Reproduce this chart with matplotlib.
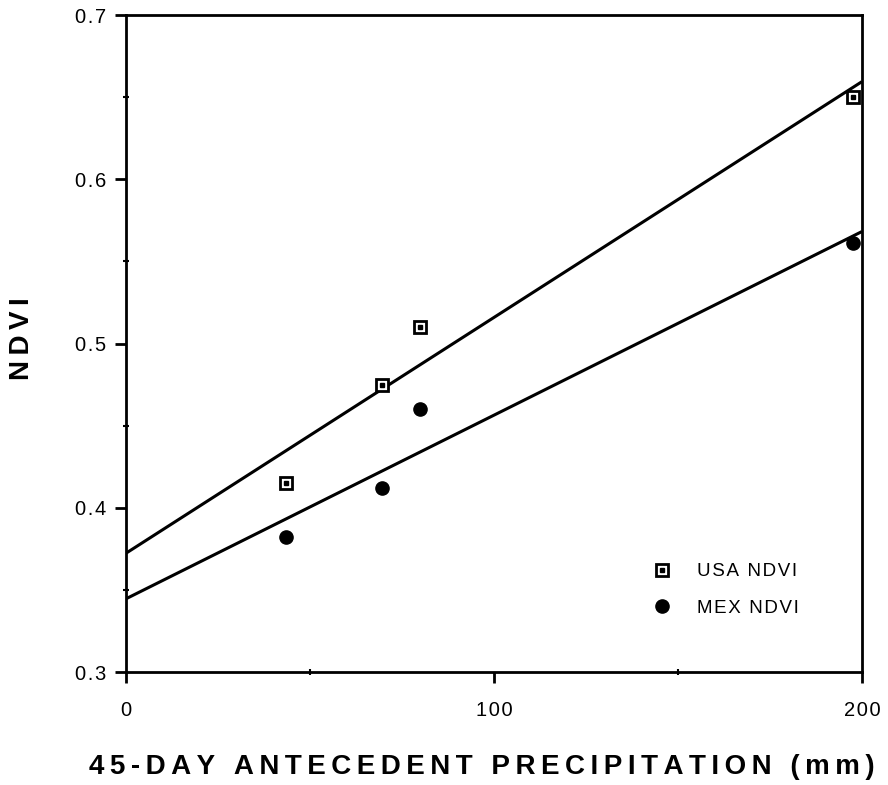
import numpy as np
import matplotlib
matplotlib.use("Agg")
import matplotlib.pyplot as plt

# values
precip = [43.5, 69.5, 80, 197.5]
usa_ndvi = [0.415, 0.475, 0.510, 0.650]
mex_ndvi = [0.382, 0.412, 0.460, 0.561]
xticks = [0, 100, 200]
yticks = [0.3, 0.4, 0.5, 0.6, 0.7]

plt.rcParams['font.family'] = ['Liberation Sans', 'DejaVu Sans']


def spaced(s, sp='\u2009'):
    # old typesetting has wide letter spacing
    return sp.join(s)


def main():
    fig = plt.figure(figsize=(8.88, 7.85), dpi=100)
    ax = fig.add_axes([0.1419, 0.1439, 0.8288, 0.8369])

    xs = np.array([0, 200])
    for ys in (usa_ndvi, mex_ndvi):
        slope, icpt = np.polyfit(precip, ys, 1)
        ax.plot(xs, icpt + slope * xs, color='black', linewidth=2.2,
                solid_capstyle='butt')

    sq = ax.plot(precip, usa_ndvi, linestyle='none', marker='s', markersize=8.5,
                 markerfacecolor='white', markeredgecolor='black',
                 markeredgewidth=2, clip_on=False)[0]
    dot = ax.plot(precip, usa_ndvi, linestyle='none', marker='s',
                  markersize=2.5, color='black', clip_on=False)[0]
    mex = ax.plot(precip, mex_ndvi, linestyle='none', marker='o',
                  markersize=9.5, color='black', clip_on=False)[0]

    ax.legend([(sq, dot), mex], [spaced('USA NDVI', '\u200a'),
                                 spaced('MEX NDVI', '\u200a')],
              frameon=False, loc='upper left', bbox_to_anchor=(0.7025, 0.166),
              borderaxespad=0, borderpad=0, fontsize=13.5,
              handletextpad=0.88, labelspacing=1.05)

    ax.set_xlim(0, 200)
    ax.set_ylim(0.3, 0.7)
    ax.set_xticks(xticks)
    ax.set_xticks([50, 150], minor=True)
    ax.set_yticks(yticks)
    ax.set_yticks([0.35, 0.45, 0.55, 0.65], minor=True)
    ax.set_xticklabels([spaced(str(v), '\u200a') for v in xticks])
    ax.set_yticklabels([spaced(f'{v:.1f}', '\u200a') for v in yticks])
    ax.tick_params(which='major', direction='out', length=8, width=2,
                   labelsize=14.5, pad=6)
    ax.tick_params(axis='x', which='major', pad=13)
    ax.tick_params(which='minor', direction='inout', length=5, width=1.5)
    for s in ax.spines.values():
        s.set_linewidth(2)

    ax.set_xlabel(spaced('45-DAY ANTECEDENT PRECIPITATION (mm)'), fontsize=20,
                  fontweight='bold', va='center')
    ax.xaxis.set_label_coords((482 - 126) / 736, (672 - 767) / 657)
    ax.set_ylabel(spaced('NDVI'), fontsize=20, fontweight='bold', va='center')
    ax.yaxis.set_label_coords((22 - 126) / 736, (672 - 339) / 657)

    fig.savefig('out.png', dpi=100)


if __name__ == '__main__':
    main()
